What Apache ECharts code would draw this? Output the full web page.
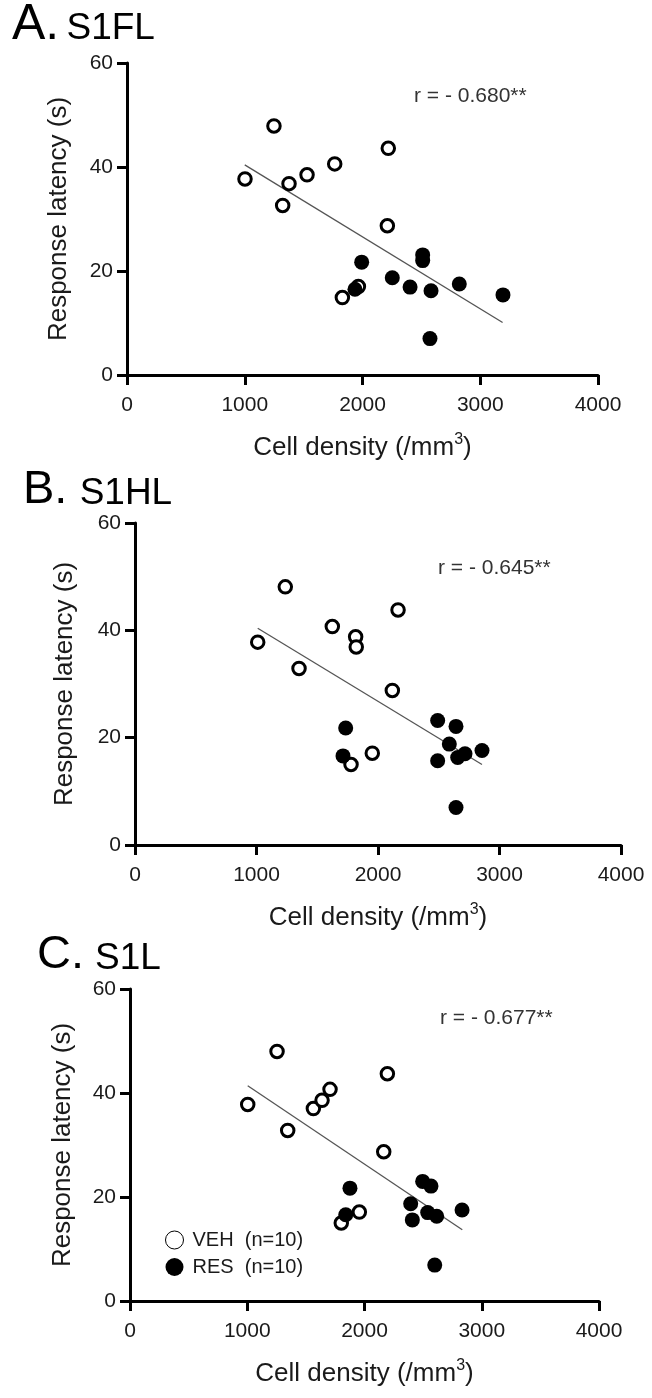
<!DOCTYPE html>
<html><head><meta charset="utf-8">
<script src="https://cdn.jsdelivr.net/npm/echarts@6/dist/echarts.min.js"></script>
<style>html,body{margin:0;padding:0;background:#fff}#c{width:652px;height:1398px}</style>
</head><body><div id="c"></div>
<script>
// ---- data ----
const xTicks = [0, 1000, 2000, 3000, 4000];
const yTicks = [0, 20, 40, 60];
const panelLetters = ['A.', 'B.', 'C.'];
const panelNames = ['S1FL', 'S1HL', 'S1L'];
const rLabels = ['r = - 0.680**', 'r = - 0.645**', 'r = - 0.677**'];
const legendNames = ['VEH  (n=10)', 'RES  (n=10)'];

const vehA = [[1002,37.7],[1248,47.9],[1322,32.6],[1376,36.8],[1529,38.5],[1764,40.6],[2219,43.6],[2211,28.7],[1829,14.9],[1965,17.0]];
const resA = [[1993,21.7],[1936,16.5],[2253,18.7],[2404,16.9],[2511,23.1],[2511,22.0],[2582,16.2],[2822,17.5],[3193,15.4],[2573,7.0]];
const fitA = [[1000,40.4],[3190,10.1]];

const vehB = [[1010,37.8],[1237,48.1],[1350,32.9],[1624,40.7],[1816,38.8],[1821,36.9],[2165,43.8],[2118,28.8],[1953,17.1],[1778,15.0]];
const resB = [[1734,21.8],[1712,16.6],[2491,23.2],[2642,22.1],[2587,18.8],[2491,15.7],[2656,16.3],[2716,17.0],[2856,17.6],[2642,7.0]];
const fitB = [[1010,40.4],[2856,15.0]];

const vehC = [[1004,37.8],[1254,48.0],[1345,32.8],[1564,37.0],[1638,38.6],[1706,40.7],[2195,43.7],[2164,28.7],[1956,17.1],[1802,15.0]];
const resC = [[1876,21.7],[1840,16.6],[2496,23.0],[2567,22.1],[2394,18.7],[2408,15.6],[2539,17.0],[2616,16.3],[2832,17.5],[2599,6.9]];
const fitC = [[1004,41.4],[2834,13.7]];

// ---- layout ----
const FONT = '"Liberation Sans", Arial, sans-serif';
const TXT = '#1a1a1a';
const grids = [
  {left:127, top:63, width:471, height:312},
  {left:135, top:523, width:486, height:322},
  {left:130, top:989, width:469, height:312}
];
const yNameGaps = [55, 57, 54];
const vehs = [vehA, vehB, vehC], ress = [resA, resB, resC], fits = [fitA, fitB, fitC];

const xAxes = [], yAxes = [], series = [];
grids.forEach((g, i) => {
  const axisCommon = {
    axisLine: {show:true, onZero:false, lineStyle:{color:'#000', width:3}},
    axisTick: {show:true, inside:false, length:10, lineStyle:{color:'#000', width:3}},
    splitLine: {show:false},
  };
  xAxes.push(Object.assign({
    type:'value', gridIndex:i, min:xTicks[0], max:xTicks[xTicks.length-1],
    interval:xTicks[1]-xTicks[0],
    axisLabel:{fontSize:21, fontFamily:FONT, color:TXT, margin:20, formatter:v => String(v)},
    name:'Cell density (/mm{sup|3})', nameLocation:'middle', nameGap:57,
    nameTextStyle:{fontSize:26, fontFamily:FONT, color:TXT,
      rich:{sup:{fontSize:16, fontFamily:FONT, color:TXT, verticalAlign:'top', padding:[0,0,15,0]}}}
  }, axisCommon));
  yAxes.push(Object.assign({
    type:'value', gridIndex:i, min:yTicks[0], max:yTicks[yTicks.length-1],
    interval:yTicks[1]-yTicks[0],
    axisLabel:{fontSize:21, fontFamily:FONT, color:TXT, margin:14, formatter:v => String(v)},
    name:'Response latency (s)', nameLocation:'middle', nameGap:yNameGaps[i],
    nameTextStyle:{fontSize:26, fontFamily:FONT, color:TXT}
  }, axisCommon));
  series.push({
    type:'scatter', name: i===2 ? legendNames[0] : 'VEH'+i, xAxisIndex:i, yAxisIndex:i,
    data:vehs[i], symbol:'circle', symbolSize:12.5,
    itemStyle:{color:'#fff', borderColor:'#000', borderWidth:3, opacity:1},
    z:3, silent:true
  });
  series.push({
    type:'scatter', name: i===2 ? legendNames[1] : 'RES'+i, xAxisIndex:i, yAxisIndex:i,
    data:ress[i], symbol:'circle', symbolSize:15,
    itemStyle:{color:'#000', opacity:1},
    z:4, silent:true
  });
  series.push({
    type:'line', name:'fit'+i, xAxisIndex:i, yAxisIndex:i,
    data:fits[i], symbol:'none', lineStyle:{color:'#555', width:1.3},
    z:2, silent:true
  });
});

const titlePos = [
  {left:12, top:0, a:50, b:37, s:26},
  {left:23, top:467, a:47, b:37, s:44},
  {left:37, top:932, a:47, b:37, s:40}
];
const rPos = [{left:414, top:86}, {left:438, top:558}, {left:440, top:1008}];
const graphic = [];
titlePos.forEach((p, i) => {
  graphic.push({type:'text', left:p.left, top:p.top, style:{
    text:'{a|'+panelLetters[i]+'}{s| }{b|'+panelNames[i]+'}',
    rich:{a:{fontSize:p.a, fontFamily:FONT, fill:'#000', verticalAlign:'bottom'},
          s:{fontSize:p.s, fontFamily:FONT, verticalAlign:'bottom'},
          b:{fontSize:p.b, fontFamily:FONT, fill:'#000', verticalAlign:'bottom',
             padding:[0,0,Math.round(0.21*(p.a-p.b)),0]}}
  }});
});
rPos.forEach((p, i) => {
  graphic.push({type:'text', left:p.left, top:p.top, style:{
    text:rLabels[i], fontSize:21, fontFamily:FONT, fill:'#333'
  }});
});

const chart = echarts.init(document.getElementById('c'), null, {renderer:'canvas'});
chart.setOption({
  animation:false,
  backgroundColor:'#fff',
  grid:grids,
  xAxis:xAxes,
  yAxis:yAxes,
  series:series,
  graphic:graphic,
  legend:{
    data:[
      {name:legendNames[0], icon:'circle', itemStyle:{color:'#fff', borderColor:'#000', borderWidth:1}},
      {name:legendNames[1], icon:'circle', itemStyle:{color:'#000', borderWidth:0}}
    ],
    orient:'vertical', left:160, top:1225, itemWidth:18, itemHeight:18, itemGap:7,
    selectedMode:false,
    textStyle:{fontSize:20, fontFamily:FONT, color:TXT, padding:[0,0,0,4]}
  }
});
</script></body></html>
